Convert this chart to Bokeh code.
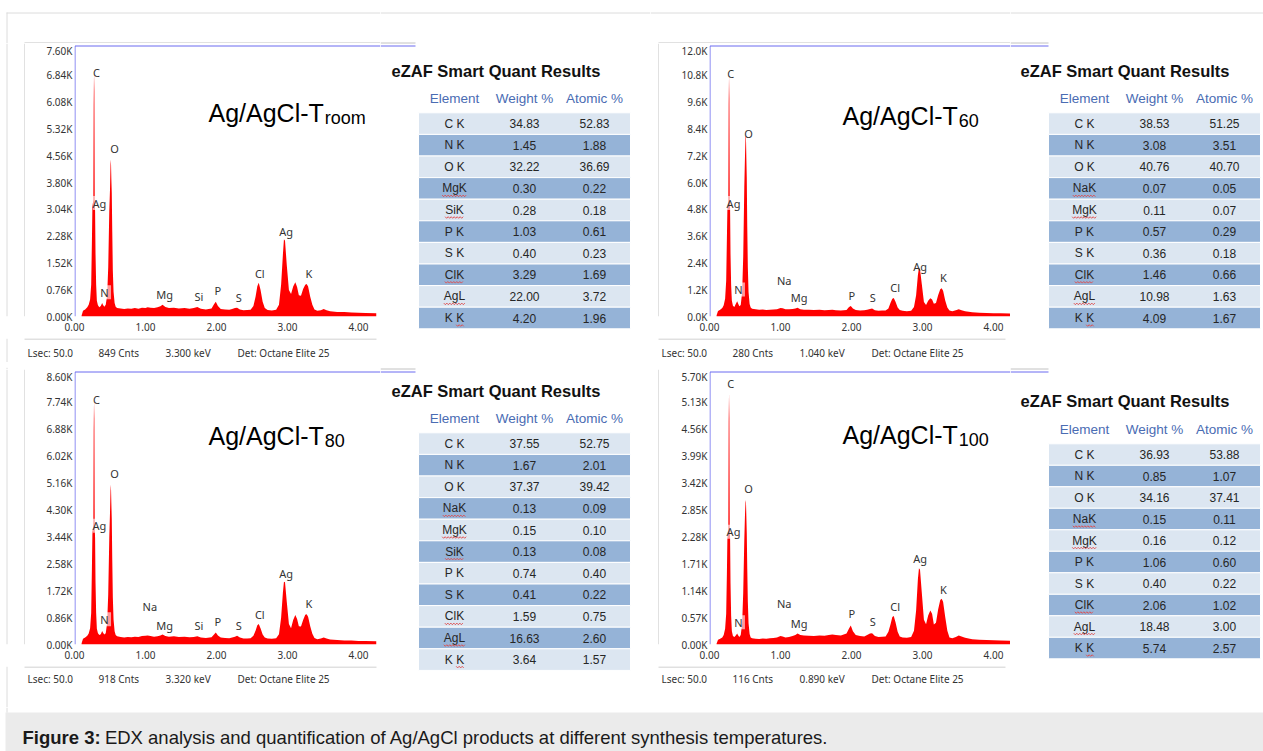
from bokeh.plotting import figure
from bokeh.layouts import row, column
from bokeh.models import Range1d, FixedTicker
from bokeh.core.properties import value
from bokeh.embed import file_html
from bokeh.resources import INLINE

# ---------------------------------------------------------------- data
energy_keV = [
    0.10, 0.12, 0.15, 0.18, 0.20, 0.22, 0.235, 0.245, 0.252, 0.258,
    0.265, 0.270, 0.275, 0.280, 0.285, 0.290, 0.296, 0.305, 0.315, 0.33,
    0.35, 0.37, 0.39, 0.40, 0.42, 0.44, 0.46, 0.475, 0.49, 0.50,
    0.507, 0.513, 0.519, 0.525, 0.532, 0.54, 0.55, 0.565, 0.58, 0.60,
    0.65, 0.70, 0.75, 0.80, 0.85, 0.90, 0.95, 1.00, 1.03, 1.07,
    1.12, 1.17, 1.21, 1.24, 1.28, 1.33, 1.40, 1.47, 1.55, 1.62,
    1.68, 1.73, 1.78, 1.85, 1.93, 1.965, 1.99, 2.02, 2.06, 2.12,
    2.18, 2.22, 2.26, 2.29, 2.33, 2.38, 2.43, 2.48, 2.52, 2.55,
    2.575, 2.595, 2.62, 2.65, 2.68, 2.72, 2.78, 2.84, 2.88, 2.91,
    2.935, 2.95, 2.965, 2.99, 3.02, 3.05, 3.08, 3.11, 3.135, 3.16,
    3.19, 3.22, 3.25, 3.27, 3.29, 3.32, 3.35, 3.38, 3.42, 3.47,
    3.51, 3.55, 3.60, 3.70, 3.80, 3.90, 4.00, 4.10, 4.25,
]

counts_room = [
    30, 160, 200, 260, 330, 480, 900, 2100, 3100, 3200,
    3300, 6000, 6900, 6400, 3300, 3000, 1800, 900, 450, 320,
    260, 300, 380, 330, 280, 330, 600, 1400, 3000, 3600,
    4300, 4450, 3900, 3500, 2400, 1300, 700, 380, 280, 240,
    230, 210, 230, 220, 240, 220, 250, 240, 260, 250,
    240, 260, 290, 330, 270, 240, 250, 230, 240, 220,
    240, 270, 220, 200, 230, 350, 420, 300, 210, 200,
    190, 210, 240, 250, 200, 180, 185, 190, 300, 560,
    860, 960, 760, 420, 240, 185, 170, 190, 330, 900,
    1750, 2190, 2150, 1450, 750, 640, 850, 970, 840, 600,
    590, 780, 900, 925, 850, 560, 330, 200, 160, 180,
    210, 180, 150, 130, 125, 115, 105, 100, 95,
]

counts_T80 = [
    40, 180, 220, 280, 350, 520, 1000, 2400, 3500, 3650,
    3700, 6800, 7750, 7200, 3700, 3400, 2000, 1000, 500, 360,
    300, 330, 430, 380, 320, 360, 700, 1600, 3400, 4200,
    4900, 5100, 4500, 4000, 2700, 1500, 800, 420, 300, 260,
    240, 220, 240, 230, 250, 240, 270, 280, 290, 270,
    250, 260, 290, 320, 270, 250, 260, 240, 250, 230,
    240, 260, 220, 210, 230, 320, 380, 290, 220, 210,
    200, 220, 250, 275, 220, 190, 195, 200, 280, 440,
    610, 650, 520, 320, 220, 195, 180, 200, 330, 850,
    1650, 2000, 1980, 1350, 650, 520, 780, 940, 810, 580,
    570, 780, 950, 965, 880, 580, 340, 210, 170, 190,
    220, 190, 160, 140, 130, 125, 115, 110, 105,
]

counts_T60 = [
    60, 250, 300, 380, 500, 800, 1600, 3500, 4800, 5000,
    5100, 9500, 10800, 9800, 5200, 4800, 2800, 1400, 700, 480,
    420, 560, 680, 600, 460, 520, 1100, 2700, 5800, 7200,
    8000, 8100, 7100, 6200, 4000, 2200, 1100, 560, 400, 350,
    320, 300, 310, 290, 300, 310, 320, 380, 370, 330,
    320, 340, 360, 390, 330, 300, 300, 290, 300, 280,
    290, 300, 280, 270, 290, 420, 470, 360, 290, 270,
    280, 300, 340, 360, 280, 260, 265, 270, 360, 620,
    800, 830, 660, 400, 290, 255, 240, 260, 420, 950,
    1850, 2170, 2120, 1450, 650, 520, 700, 820, 760, 570,
    600, 950, 1220, 1260, 1150, 720, 400, 270, 240, 280,
    320, 280, 230, 190, 170, 160, 150, 140, 130,
]

counts_T100 = [
    20, 100, 120, 150, 200, 330, 650, 1500, 2250, 2350,
    2400, 4700, 5300, 4800, 2450, 2250, 1300, 600, 280, 180,
    160, 190, 230, 200, 160, 200, 450, 1100, 2200, 2750,
    3000, 3050, 2700, 2350, 1600, 900, 450, 220, 150, 130,
    120, 115, 125, 120, 130, 135, 150, 180, 170, 150,
    160, 180, 200, 230, 200, 190, 185, 180, 190, 185,
    200, 210, 200, 190, 230, 340, 400, 280, 200, 180,
    170, 200, 230, 240, 180, 160, 165, 170, 270, 430,
    580, 600, 470, 270, 170, 150, 140, 160, 290, 720,
    1380, 1610, 1580, 1100, 520, 430, 610, 720, 650, 420,
    460, 740, 940, 965, 900, 580, 290, 150, 130, 160,
    190, 170, 140, 110, 100, 95, 90, 85, 80,
]

x_tick_labels = ["0.00", "1.00", "2.00", "3.00", "4.00"]
y_tick_labels_room = ["0.00K", "0.76K", "1.52K", "2.28K", "3.04K", "3.80K",
                      "4.56K", "5.32K", "6.08K", "6.84K", "7.60K"]
y_tick_labels_T80 = ["0.00K", "0.86K", "1.72K", "2.58K", "3.44K", "4.30K",
                     "5.16K", "6.02K", "6.88K", "7.74K", "8.60K"]
y_tick_labels_T60 = ["0.0K", "1.2K", "2.4K", "3.6K", "4.8K", "6.0K",
                     "7.2K", "8.4K", "9.6K", "10.8K", "12.0K"]
y_tick_labels_T100 = ["0.00K", "0.57K", "1.14K", "1.71K", "2.28K", "2.85K",
                      "3.42K", "3.99K", "4.56K", "5.13K", "5.70K"]

peak_labels_room = ["C", "O", "Ag", "N", "Mg", "Si", "P", "S", "Cl", "Ag", "K"]
peak_keV_room = [0.31, 0.563, 0.352, 0.423, 1.268, 1.751, 2.019, 2.315, 2.61, 2.98, 3.30]
peak_cnt_room = [6925, 4767, 3218, 685, 619, 563, 751, 544, 1220, 2402, 1220]

peak_labels_T80 = ["C", "O", "Ag", "N", "Na", "Mg", "Si", "P", "S", "Cl", "Ag", "K"]
peak_keV_T80 = [0.31, 0.563, 0.352, 0.423, 1.061, 1.268, 1.751, 2.019, 2.315, 2.61, 2.98, 3.30]
peak_cnt_T80 = [7800, 5454, 3784, 803, 1205, 613, 592, 729, 592, 962, 2262, 1300]

peak_labels_T60 = ["C", "O", "Ag", "N", "Na", "Mg", "P", "S", "Cl", "Ag", "K"]
peak_keV_T60 = [0.300, 0.549, 0.338, 0.408, 1.052, 1.263, 2.005, 2.30, 2.615, 2.967, 3.296]
peak_cnt_T60 = [10893, 8214, 5078, 1207, 1619, 854, 957, 854, 1295, 2237, 1737]

peak_labels_T100 = ["C", "O", "Ag", "N", "Na", "Mg", "P", "S", "Cl", "Ag", "K"]
peak_keV_T100 = [0.300, 0.549, 0.338, 0.408, 1.052, 1.263, 2.005, 2.30, 2.615, 2.967, 3.296]
peak_cnt_T100 = [5511, 3299, 2380, 470, 856, 435, 660, 491, 800, 1818, 1158]

sample_name = "Ag/AgCl-T"
sample_subscripts = ["room", "80", "60", "100"]

footer_room = ["Lsec: 50.0", "849 Cnts", "3.300 keV", "Det: Octane Elite 25"]
footer_T80 = ["Lsec: 50.0", "918 Cnts", "3.320 keV", "Det: Octane Elite 25"]
footer_T60 = ["Lsec: 50.0", "280 Cnts", "1.040 keV", "Det: Octane Elite 25"]
footer_T100 = ["Lsec: 50.0", "116 Cnts", "0.890 keV", "Det: Octane Elite 25"]

table_title = "eZAF Smart Quant Results"
table_headers = ["Element", "Weight %", "Atomic %"]

elements_room = ["C K", "N K", "O K", "MgK", "SiK", "P K", "S K", "ClK", "AgL", "K K"]
weight_room = [34.83, 1.45, 32.22, 0.30, 0.28, 1.03, 0.40, 3.29, 22.00, 4.20]
atomic_room = [52.83, 1.88, 36.69, 0.22, 0.18, 0.61, 0.23, 1.69, 3.72, 1.96]

elements_T60 = ["C K", "N K", "O K", "NaK", "MgK", "P K", "S K", "ClK", "AgL", "K K"]
weight_T60 = [38.53, 3.08, 40.76, 0.07, 0.11, 0.57, 0.36, 1.46, 10.98, 4.09]
atomic_T60 = [51.25, 3.51, 40.70, 0.05, 0.07, 0.29, 0.18, 0.66, 1.63, 1.67]

elements_T80 = ["C K", "N K", "O K", "NaK", "MgK", "SiK", "P K", "S K", "ClK", "AgL", "K K"]
weight_T80 = [37.55, 1.67, 37.37, 0.13, 0.15, 0.13, 0.74, 0.41, 1.59, 16.63, 3.64]
atomic_T80 = [52.75, 2.01, 39.42, 0.09, 0.10, 0.08, 0.40, 0.22, 0.75, 2.60, 1.57]

elements_T100 = ["C K", "N K", "O K", "NaK", "MgK", "P K", "S K", "ClK", "AgL", "K K"]
weight_T100 = [36.93, 0.85, 34.16, 0.15, 0.16, 1.06, 0.40, 2.06, 18.48, 5.74]
atomic_T100 = [53.88, 1.07, 37.41, 0.11, 0.12, 0.60, 0.22, 1.02, 3.00, 2.57]

caption_bold = "Figure 3:"
caption_text = "EDX analysis and quantification of Ag/AgCl products at different synthesis temperatures."

for arr in (counts_room, counts_T80, counts_T60, counts_T100):
    assert len(arr) == len(energy_keV), len(arr)

# ---------------------------------------------------------------- style
BLUE = "#6b6bf0"
BOX_GRAY = "#c2c2c2"
PAGE_GRAY = "#dcdcdc"
RED = "#ff0000"
HEAD_BLUE = "#4a6cb3"
ROW_LIGHT = "#dce6f1"
ROW_DARK = "#95b3d7"
TXT = "#262626"
PAGE_X = 6
PPK = 71.0  # pixels per keV
SPEC_FONT = value("Noto Sans")
ARIAL = value("Liberation Sans")
ARIAL_W = {"A": 667, "g": 556, "/": 278, "C": 722, "l": 222, "-": 333, "T": 611,
           "M": 833, "K": 667, "S": 667, "i": 222, "L": 556, "N": 722, "a": 556,
           " ": 278, "P": 667, "O": 778, "F": 611, "u": 556, "r": 333, "e": 556,
           "3": 556, ":": 278}


def text_w(s, size, bold=False):
    w = sum(ARIAL_W.get(c, 556) for c in s) * size / 1000.0
    return w * (1.06 if bold else 1.0)


TOP = dict(H=362, box_top=42, ft=46, fb=316, bb=338, foot=352, page_top=True)
BOT = dict(H=345, box_top=6, ft=10, fb=282, bb=304, foot=316, page_top=False)
LEFT = dict(W=380, page_left=True, bl=24, fl=74, fr=376, ext=35, tdx=134)
RIGHT = dict(W=360, page_left=False, bl=8, fl=59, fr=355, ext=38, tdx=133)


def blank(w, h):
    p = figure(width=w, height=h, x_range=Range1d(0, w), y_range=Range1d(h, 0),
               output_backend="svg", toolbar_location=None, title=None,
               x_axis_location=None, y_axis_location=None, min_border=0)
    p.outline_line_color = None
    p.grid.visible = False
    p.background_fill_color = "white"
    p.border_fill_color = "white"
    return p


def hline(p, x0, x1, y, color):
    p.segment(x0=[x0], y0=[y], x1=[x1], y1=[y], line_color=color, line_width=1)


def vline(p, x, y0, y1, color):
    p.segment(x0=[x], y0=[y0], x1=[x], y1=[y1], line_color=color, line_width=1)


def style_axis(ax, standoff):
    ax.axis_line_color = None
    ax.major_tick_line_color = None
    ax.minor_tick_line_color = None
    ax.major_tick_out = 0
    ax.major_tick_in = 0
    ax.minor_tick_out = 0
    ax.minor_tick_in = 0
    ax.major_label_standoff = standoff
    ax.major_label_text_font = "Noto Sans"
    ax.major_label_text_font_size = "10px"
    ax.major_label_text_color = "#333333"


def spectrum_panel(G, C, counts, ylabels, plabels, pkev, pcnt, sub, tdy, footer):
    W, H = C["W"], G["H"]
    bl, fl = C["bl"], C["fl"]
    top_h = G["box_top"] + 1
    mid_h = G["bb"] - top_h
    bot_h = H - G["bb"]
    sl = bl + 1

    st = blank(W, top_h)
    if G["page_top"]:
        hline(st, PAGE_X if C["page_left"] else 0, W, 12.5, PAGE_GRAY)
    if C["page_left"]:
        vline(st, PAGE_X + 0.5, 12 if G["page_top"] else 0, top_h, PAGE_GRAY)
    hline(st, bl, W, top_h - 0.5, BOX_GRAY)

    sleft = blank(sl, mid_h)
    if C["page_left"]:
        vline(sleft, PAGE_X + 0.5, 0, mid_h, PAGE_GRAY)
    vline(sleft, bl + 0.5, 0, mid_h, BOX_GRAY)

    ticks = [round(float(s[:-1]) * 1000) for s in ylabels]
    per_px = ticks[-1] / (G["fb"] - (G["ft"] + 2))
    y_end = (G["fb"] - top_h) * per_px
    x_end = (W - fl) / PPK
    sp = figure(width=W - sl, height=mid_h, x_range=Range1d(0, x_end), y_range=Range1d(0, y_end),
                output_backend="svg", toolbar_location=None, title=None,
                min_border_left=fl - sl, min_border_right=0, min_border_top=0,
                min_border_bottom=G["bb"] - G["fb"])
    sp.outline_line_color = None
    sp.grid.visible = False
    sp.background_fill_color = "white"
    sp.border_fill_color = "white"

    sp.varea(x=energy_keV, y1=0, y2=counts, fill_color=RED, fill_alpha=1.0)

    # blue frame (left and top)
    yb = (G["fb"] - (G["ft"] - 0.5)) * per_px
    x_in = 0.5 / PPK
    sp.segment(x0=[x_in, x_in], y0=[0, yb], x1=[x_in, x_end], y1=[yb, yb],
               line_color=BLUE, line_width=1)

    # label backgrounds on the low-energy overlapping labels
    bx = [x for l, x in zip(plabels, pkev) if l != "C" and x < 0.45]
    by = [y for l, x, y in zip(plabels, pkev, pcnt) if l != "C" and x < 0.45]
    sp.rect(x=bx, y=by, width=13, height=14, width_units="screen", height_units="screen",
            fill_color="white", fill_alpha=0.6, line_color=None)
    sp.text(x=pkev, y=pcnt, text=plabels, text_font=SPEC_FONT, text_font_size="11px",
            text_align="center", text_baseline="middle", text_color="#333333")

    tx = C["tdx"] / PPK
    ty = (G["fb"] - (G["ft"] + tdy)) * per_px
    sp.text(x=[tx], y=[ty], text=[sample_name], text_font=ARIAL, text_font_size="25px",
            text_align="left", text_baseline="alphabetic", text_color="black")
    sx = (C["tdx"] + text_w(sample_name, 25) + 1) / PPK
    sy = (G["fb"] - (G["ft"] + tdy + 5)) * per_px
    sp.text(x=[sx], y=[sy], text=[sub], text_font=ARIAL, text_font_size="18px",
            text_align="left", text_baseline="alphabetic", text_color="black")

    xa = sp.xaxis[0]
    xt = [round(float(s)) for s in x_tick_labels]
    xa.ticker = FixedTicker(ticks=xt)
    xa.major_label_overrides = dict(zip(xt, x_tick_labels))
    style_axis(xa, 6)

    ya = sp.yaxis[0]
    ya.ticker = FixedTicker(ticks=ticks)
    ya.major_label_overrides = dict(zip(ticks, ylabels))
    style_axis(ya, 2)

    sb = blank(W, bot_h)
    hline(sb, bl, C["fr"], 0.5, BOX_GRAY)
    if C["page_left"]:
        vline(sb, PAGE_X + 0.5, 0, bot_h, PAGE_GRAY)
    fy = G["foot"] - G["bb"]
    sb.text(x=[bl + 3, bl + 74, bl + 141, bl + 213], y=[fy] * 4, text=footer,
            text_font=SPEC_FONT, text_font_size="10px", text_align="left",
            text_baseline="middle", text_color="#333333")

    return column(st, row(sleft, sp), sb)


def table_panel(G, W, ext, geo, elements, weight, atomic):
    title_x, title_y, header_y, rows_top, row_h = geo
    p = blank(W, G["H"])
    if G["page_top"]:
        hline(p, 0, W, 12.5, PAGE_GRAY)
    hline(p, 0, ext, G["box_top"] + 0.5, BOX_GRAY)
    hline(p, 0, ext, G["ft"] - 0.5, BLUE)

    p.text(x=[title_x], y=[title_y], text=[table_title], text_font=ARIAL,
           text_font_size="16.5px", text_font_style="bold", text_align="left",
           text_baseline="middle", text_color="#111111")
    cols = [74, 144, 214]
    p.text(x=cols, y=[header_y] * 3, text=table_headers, text_font=ARIAL,
           text_font_size="13.5px", text_align="center", text_baseline="middle",
           text_color=HEAD_BLUE)

    n = len(elements)
    tops = [rows_top + i * row_h for i in range(n)]
    bottoms = [t + row_h for t in tops]
    fills = [ROW_LIGHT if i % 2 == 0 else ROW_DARK for i in range(n)]
    p.quad(left=38, right=250, top=tops, bottom=bottoms, fill_color=fills,
           line_color="white", line_width=1)
    centers = [t + row_h / 2 for t in tops]
    p.text(x=[cols[0]] * n, y=centers, text=elements, text_font=ARIAL,
           text_font_size="12px", text_align="center", text_baseline="middle", text_color=TXT)
    p.text(x=[cols[1]] * n, y=centers, text=[f"{v:.2f}" for v in weight], text_font=ARIAL,
           text_font_size="12px", text_align="center", text_baseline="middle", text_color=TXT)
    p.text(x=[cols[2]] * n, y=centers, text=[f"{v:.2f}" for v in atomic], text_font=ARIAL,
           text_font_size="12px", text_align="center", text_baseline="middle", text_color=TXT)

    # spell-check squiggles under the element names
    xs, ys = [], []
    for name, cy in zip(elements, centers):
        w = text_w(name, 12)
        if " " not in name:
            x0, x1 = cols[0] - w / 2, cols[0] + w / 2
        elif name == "K K":
            x0, x1 = cols[0] + w / 2 - 8, cols[0] + w / 2
        else:
            continue
        yy = cy + 7.5
        px, py = [], []
        k = 0
        x = x0
        while x <= x1:
            px.append(x)
            py.append(yy - 0.8 if k % 2 == 0 else yy + 0.8)
            x += 1.5
            k += 1
        xs.append(px)
        ys.append(py)
    p.multi_line(xs=xs, ys=ys, line_color="#e04848", line_width=0.9)
    return p


sp_room = spectrum_panel(TOP, LEFT, counts_room, y_tick_labels_room, peak_labels_room,
                         peak_keV_room, peak_cnt_room, sample_subscripts[0], 66, footer_room)
sp_T60 = spectrum_panel(TOP, RIGHT, counts_T60, y_tick_labels_T60, peak_labels_T60,
                        peak_keV_T60, peak_cnt_T60, sample_subscripts[2], 69, footer_T60)
sp_T80 = spectrum_panel(BOT, LEFT, counts_T80, y_tick_labels_T80, peak_labels_T80,
                        peak_keV_T80, peak_cnt_T80, sample_subscripts[1], 63, footer_T80)
sp_T100 = spectrum_panel(BOT, RIGHT, counts_T100, y_tick_labels_T100, peak_labels_T100,
                         peak_keV_T100, peak_cnt_T100, sample_subscripts[3], 62, footer_T100)

tb_room = table_panel(TOP, 270, LEFT["ext"], (11, 70, 97.7, 112.3, 21.6),
                      elements_room, weight_room, atomic_room)
tb_T60 = table_panel(TOP, 253, RIGHT["ext"], (10, 70, 97.7, 112.3, 21.6),
                     elements_T60, weight_T60, atomic_T60)
tb_T80 = table_panel(BOT, 270, LEFT["ext"], (11, 28, 56.3, 70.3, 21.6),
                     elements_T80, weight_T80, atomic_T80)
tb_T100 = table_panel(BOT, 253, RIGHT["ext"], (10, 38.7, 67, 81.3, 21.5),
                      elements_T100, weight_T100, atomic_T100)

cap = blank(1263, 44)
cap.quad(left=[5], right=[1263], top=[5], bottom=[44], fill_color="#ebebeb", line_color=None)
vline(cap, PAGE_X + 0.5, 0, 5, PAGE_GRAY)
cap.text(x=[22], y=[30], text=[caption_bold], text_font=ARIAL, text_font_size="18.5px",
         text_font_style="bold", text_align="left", text_baseline="middle", text_color="#1a1a1a")
cap.text(x=[22 + text_w(caption_bold, 18.5, bold=True) + 5], y=[30], text=[caption_text],
         text_font=ARIAL, text_font_size="18.5px", text_align="left", text_baseline="middle",
         text_color="#1a1a1a")

page = column(row(sp_room, tb_room, sp_T60, tb_T60),
              row(sp_T80, tb_T80, sp_T100, tb_T100),
              cap)

open("out.html", "w").write(file_html(page, INLINE))
